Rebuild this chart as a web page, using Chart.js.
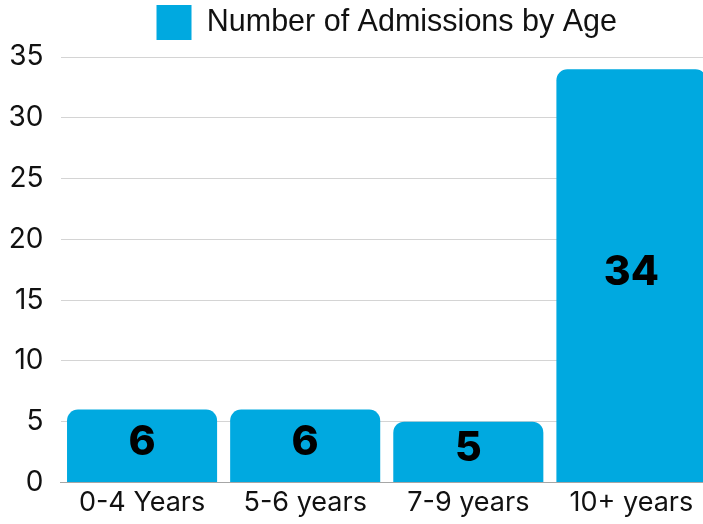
<!DOCTYPE html>
<html>
<head>
<meta charset="utf-8">
<script src="https://cdn.jsdelivr.net/npm/chart.js@4/dist/chart.umd.min.js"></script>
<style>
  html, body { margin: 0; padding: 0; background: #fff; overflow: hidden; }
  #wrap { width: 713px; height: 524px; position: relative; }
</style>
</head>
<body>
<div id="wrap"><canvas id="admissions-chart"></canvas></div>
<script>
// Admissions by age group.
const categories = ['0-4 Years', '5-6 years', '7-9 years', '10+ years'];
const admissions = [6, 6, 5, 34];
const yTicks = [0, 5, 10, 15, 20, 25, 30, 35];
const seriesLabel = 'Number of Admissions by Age';

const BAR_BLUE = '#00a9e0';

// values drawn in bold inside each bar, a bit above its middle
const barValueLabels = {
  id: 'barValueLabels',
  afterDatasetsDraw(chart) {
    const { ctx } = chart;
    const meta = chart.getDatasetMeta(0);
    ctx.save();
    ctx.font = '800 41px Inter';
    ctx.fillStyle = '#000';
    ctx.textAlign = 'center';
    ctx.textBaseline = 'middle';
    meta.data.forEach((bar, i) => {
      const mid = (bar.y + bar.base) / 2 - 3;
      ctx.fillText(String(chart.data.datasets[0].data[i]), bar.x, mid);
    });
    ctx.restore();
  },
};

// the plot is pushed down via the y scale's paddingTop, which drags the legend down too;
// nudge the legend back up so the swatch sits near the top edge like the reference
const liftLegend = {
  id: 'liftLegend',
  afterLayout(chart) {
    const lg = chart.legend;
    if (!lg) return;
    lg.top -= 7;
    lg.bottom -= 7;
  },
};

new Chart(document.getElementById('admissions-chart'), {
  type: 'bar',
  data: {
    labels: categories,
    datasets: [{
      label: seriesLabel,
      data: admissions,
      backgroundColor: BAR_BLUE,
      borderRadius: { topLeft: 11, topRight: 11 },
      borderSkipped: 'start',
      categoryPercentage: 1,
      barPercentage: 0.92,
    }],
  },
  options: {
    responsive: true,
    maintainAspectRatio: false,
    animation: false,
    layout: { padding: 0 },
    scales: {
      x: {
        grid: { display: false, drawTicks: false },
        border: { display: true, color: '#a6a6a6', width: 1 },
        ticks: { color: '#111', font: { family: 'Inter', size: 27, lineHeight: 0.8 }, padding: 10 },
      },
      y: {
        min: 0,
        max: 35,
        afterBuildTicks(scale) { scale.ticks = yTicks.map((v) => ({ value: v })); },
        afterFit(scale) {
          scale.width = 60.5;
          scale.paddingTop = 57;
        },
        grid: { color: '#d4d4d4', lineWidth: 1, drawTicks: false },
        border: { display: false },
        ticks: { color: '#111', font: { family: 'Inter', size: 28 }, padding: 17 },
      },
    },
    plugins: {
      legend: {
        fullSize: false,
        labels: {
          color: '#111',
          boxWidth: 35,
          boxHeight: 35,
          padding: 5,
          font: { family: 'Liberation Sans', size: 30.5 },
        },
      },
      tooltip: { enabled: false },
    },
  },
  plugins: [barValueLabels, liftLegend],
});
</script>
</body>
</html>
